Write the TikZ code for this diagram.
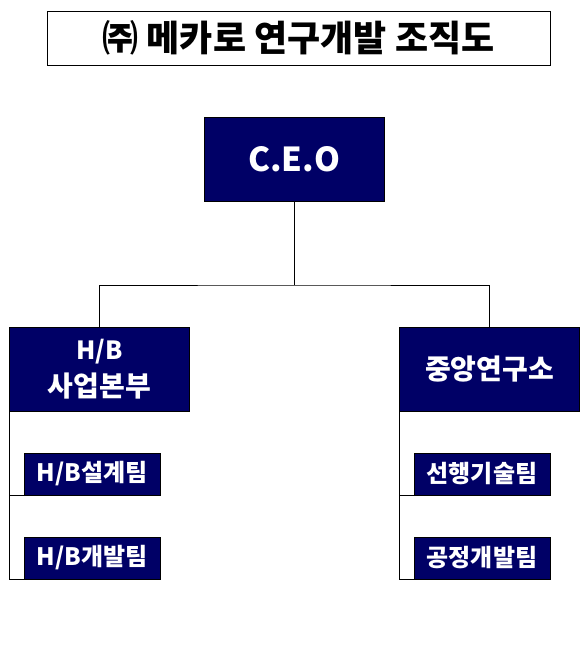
\documentclass[tikz,border=0pt]{standalone}
\usepackage{fontspec}
\setmainfont{Noto Sans CJK KR}
\definecolor{navybox}{RGB}{0,0,102}
\tikzset{
  orgbox/.style={draw=black, fill=navybox, text=white, font=\bfseries, inner sep=0pt, align=center, line width=0.8pt},
  teambox/.style={orgbox, minimum width=136pt, minimum height=42pt, font=\bfseries\fontsize{24}{28}\selectfont},
  headbox/.style={orgbox, minimum width=180pt, minimum height=84pt, font=\bfseries\fontsize{28}{37}\selectfont},
  wire/.style={draw=black, line width=0.8pt}
}
\begin{document}
\begin{tikzpicture}[x=1pt,y=1pt,yscale=-1,xscale=1]
        \useasboundingbox (0,0) rectangle (586,669);

        % Title
        \node (title) at (298.5,38) [draw=black, line width=0.8pt, minimum width=503pt, minimum height=54pt, inner sep=0pt, font=\bfseries\fontsize{36}{40}\selectfont] {㈜ 메카로 연구개발 조직도};

        % Boxes
        \node (ceo) at (294,159) [orgbox, minimum width=180pt, minimum height=84pt, font=\bfseries\fontsize{33}{40}\selectfont] {C.E.O};
        \node (hb) at (99.5,369) [headbox] {{\fontsize{25}{37}\selectfont H/B}\\사업본부};
        \node (lab) at (489.5,369) [headbox] {중앙연구소};
        \node (hbdesign) at (92,474) [teambox] {H/B설계팀};
        \node (hbdev) at (92,558) [teambox] {H/B개발팀};
        \node (advtech) at (482,474) [teambox] {선행기술팀};
        \node (procdev) at (482,558) [teambox] {공정개발팀};

        % Lines
        \coordinate (bus) at (294,285);
        \draw [wire] (ceo.south) -- (bus);
        \draw [wire] (hb.north) |- (bus) -| (lab.north);
        \draw [wire] (hb.south west) |- (hbdesign.south west);
        \draw [wire] (hb.south west) |- (hbdev.south west);
        \draw [wire] (lab.south west) |- (advtech.south west);
        \draw [wire] (lab.south west) |- (procdev.south west);

\end{tikzpicture}
\end{document}
